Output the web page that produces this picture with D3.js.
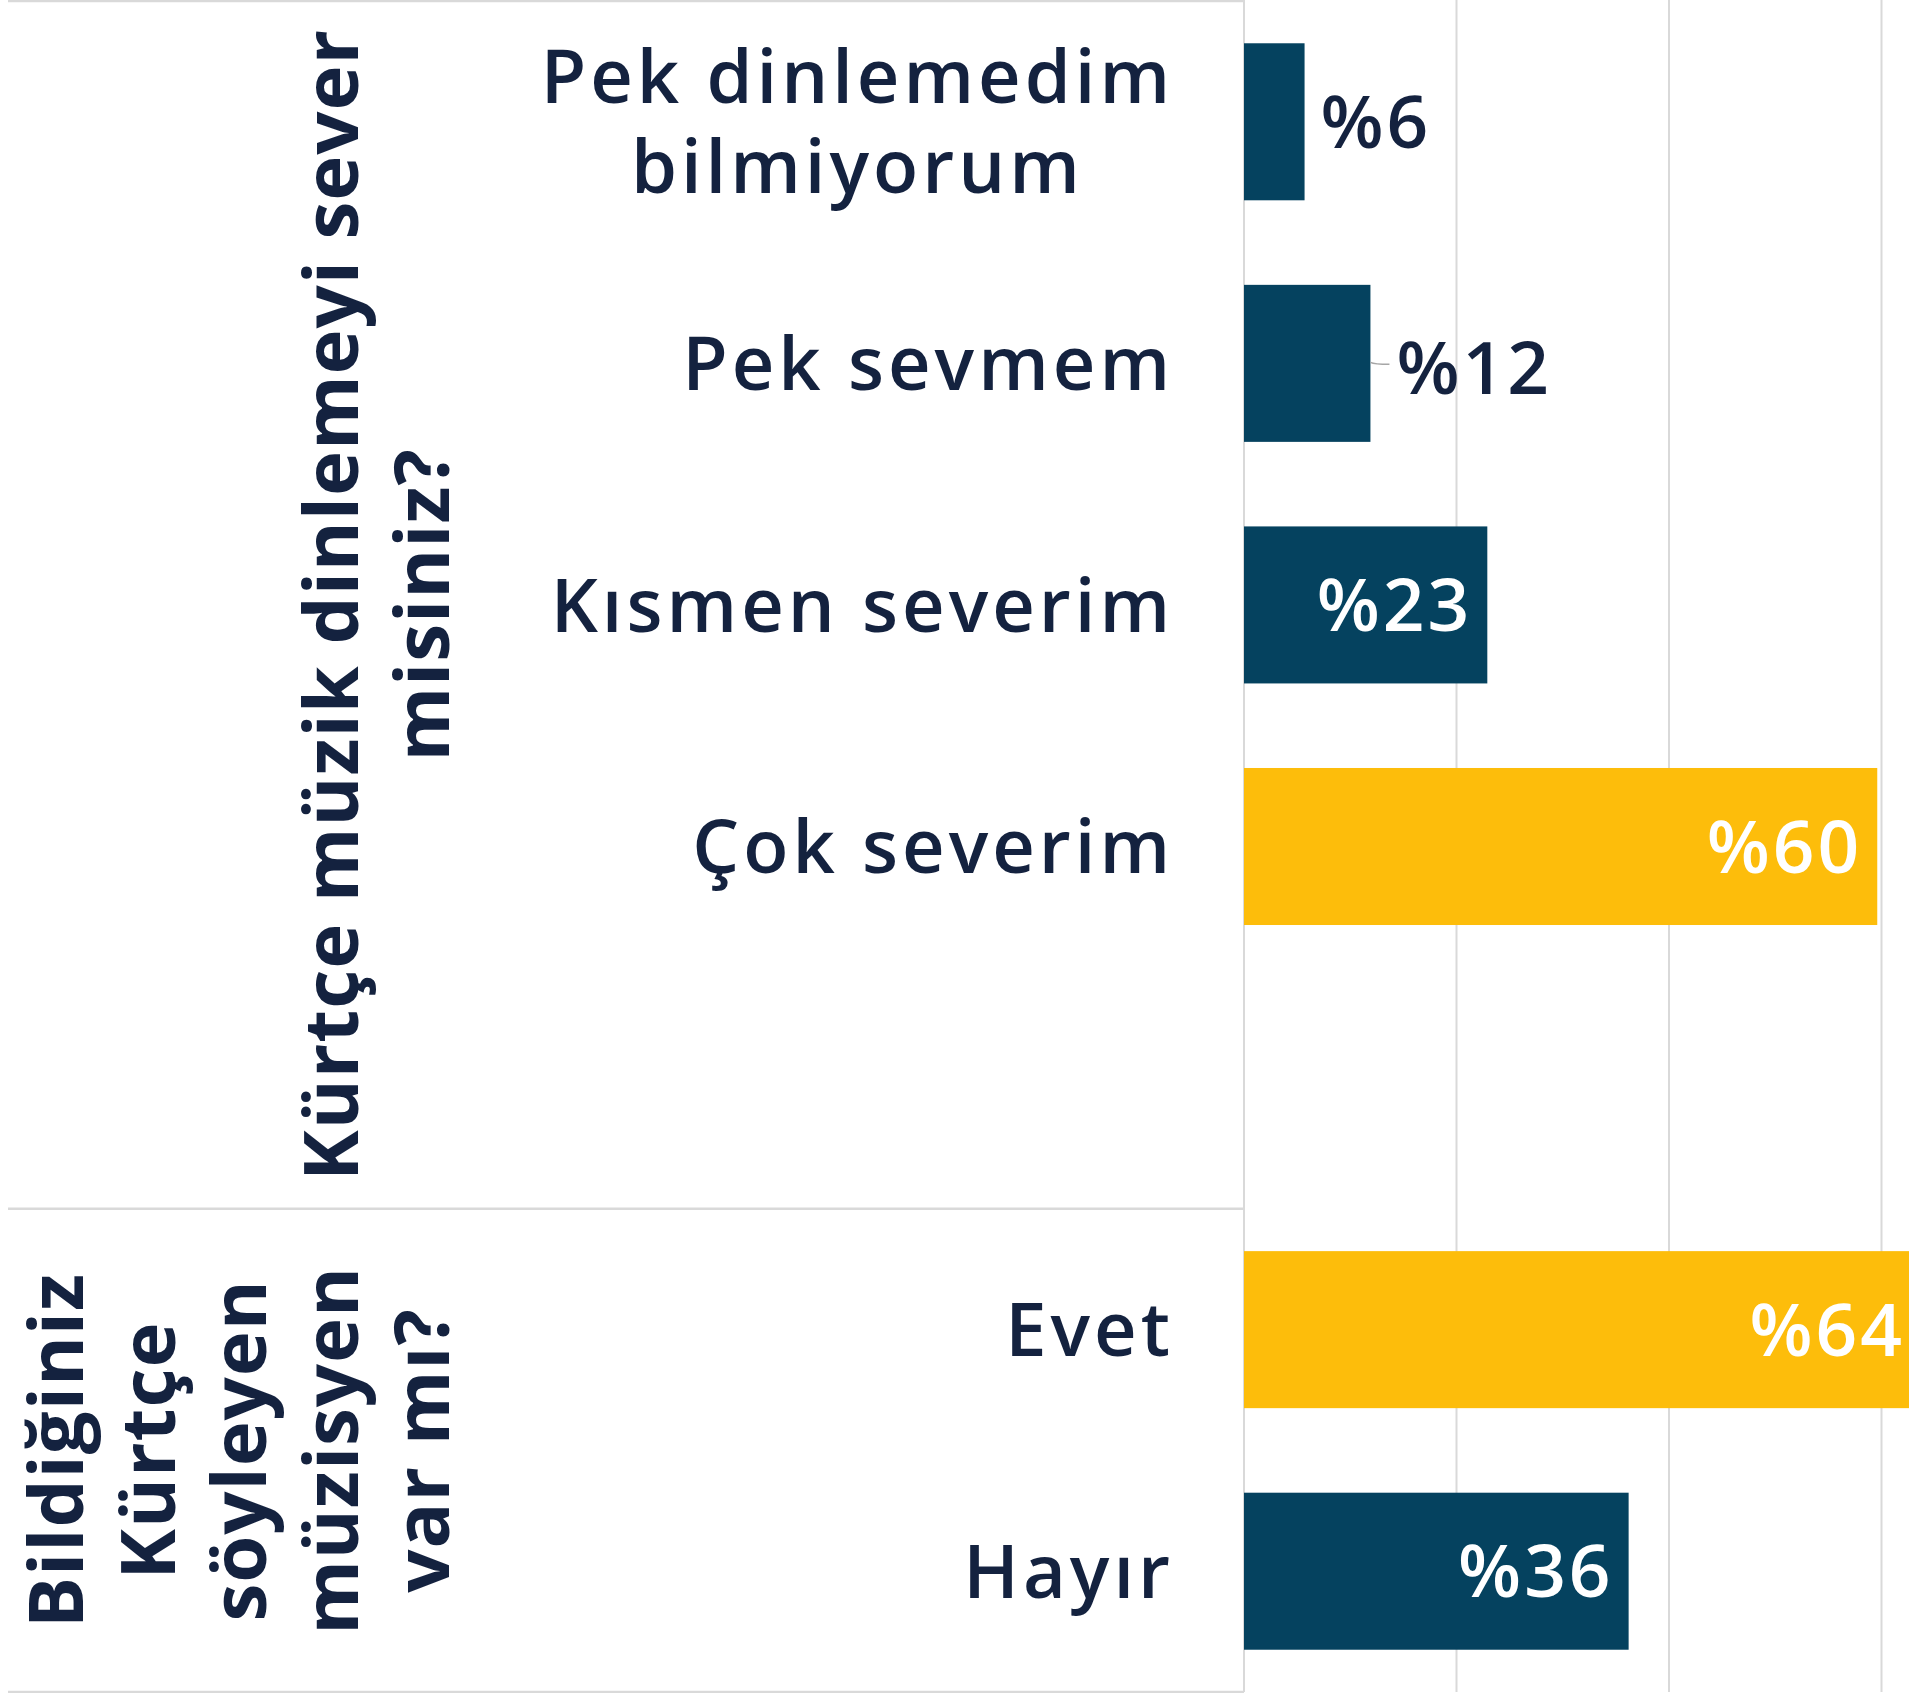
<!DOCTYPE html>
<html>
<head>
<meta charset="utf-8">
<script src="https://cdn.jsdelivr.net/npm/d3@7"></script>
<style>
  body { margin: 0; background: #fff; }
  svg { display: block; }
  text { font-family: "Open Sans", sans-serif; fill: #14223f; }
</style>
</head>
<body>
<svg width="1909" height="1693"></svg>
<script>
// **** Data ****

var groupLabels = [
    ["Kürtçe müzik dinlemeyi sever", "misiniz?"],
    ["Bildiğiniz", "Kürtçe", "söyleyen", "müzisyen", "var mı?"]
];

var categories = [
    ["Pek dinlemedim", "bilmiyorum"],
    ["Pek sevmem"],
    ["Kısmen severim"],
    ["Çok severim"],
    ["Evet"],
    ["Hayır"]
];

var categoryGroup = [0, 0, 0, 0, 1, 1];

var values = [5.7, 11.9, 22.9, 59.6, 64.0, 36.2];

var gridTicks = [0, 20, 40, 60, 80];

// **** Layout ****

var width = 1909, height = 1693;
var axisX = 1244;
var labelRight = 1170;
var groupBaseline = 449;
var groupLineHeight = 91.5;
var catLineHeight = 90;

var svg = d3.select('svg');

// band keys: one empty slot between the two groups
var keys = ['c0', 'c1', 'c2', 'c3', 'gap', 'c4', 'c5'];

var yScale = d3.scaleBand()
    .domain(keys)
    .range([1, 1692])
    .paddingInner(0.35)
    .paddingOuter(0.175);

var xScale = d3.scaleLinear()
    .domain([0, 80])
    .range([axisX, axisX + 850]);

function barY(i) { return yScale('c' + i); }
function barCenter(i) { return yScale('c' + i) + yScale.bandwidth() / 2; }

// which bar is the largest in its group -> yellow
function isTop(i) {
    var g = categoryGroup[i];
    var m = d3.max(values.filter(function(v, j) { return categoryGroup[j] === g; }));
    return values[i] === m;
}

// **** Gridlines ****
svg.append('g').attr('class', 'grid')
    .selectAll('line')
    .data(gridTicks)
    .enter()
    .append('line')
    .attr('x1', function(d) { return xScale(d); })
    .attr('x2', function(d) { return xScale(d); })
    .attr('y1', 0)
    .attr('y2', 1692)
    .attr('stroke', '#d9d9d9')
    .attr('stroke-width', 2);

// **** Category axis borders (multi-level) ****
var step = yScale.step();
var y0 = yScale.range()[0];
var sepYs = [y0, y0 + 5 * step, y0 + 7 * step];

svg.append('g').attr('class', 'borders')
    .selectAll('line')
    .data(sepYs)
    .enter()
    .append('line')
    .attr('x1', 8)
    .attr('x2', axisX)
    .attr('y1', function(d) { return d; })
    .attr('y2', function(d) { return d; })
    .attr('stroke', '#d9d9d9')
    .attr('stroke-width', 2.5);

// **** Bars ****
svg.append('g').attr('class', 'bars')
    .selectAll('rect')
    .data(values)
    .enter()
    .append('rect')
    .attr('x', xScale(0))
    .attr('y', function(d, i) { return barY(i); })
    .attr('width', function(d) { return xScale(d) - xScale(0); })
    .attr('height', yScale.bandwidth())
    .attr('fill', function(d, i) { return isTop(i) ? '#fdbd0b' : '#05425f'; });

// **** Value labels ****
var valueFont = 73;
var valueSpacing = 3;
var leaderLabels = [1];

values.forEach(function(v, i) {
    var end = xScale(v);
    var cy = barCenter(i);
    var txt = '%' + Math.round(v);
    if (v >= 20) {
        svg.append('text')
            .attr('x', Math.min(end - 18, width - 7) + valueSpacing)
            .attr('y', cy + valueFont * 0.36)
            .attr('text-anchor', 'end')
            .style('font-size', valueFont + 'px')
            .style('font-weight', 600)
            .style('letter-spacing', valueSpacing + 'px')
            .style('fill', '#ffffff')
            .text(txt);
    } else {
        var lead = leaderLabels.indexOf(i) >= 0;
        var lx = end + (lead ? 26 : 16);
        if (lead) {
            svg.append('path')
                .attr('d', 'M' + end + ',' + (cy - 1) + ' Q' + (end + 4) + ',' + (cy + 1) + ' ' + (end + 19) + ',' + (cy + 1))
                .attr('fill', 'none')
                .attr('stroke', '#a6a6a6')
                .attr('stroke-width', 1.5);
        }
        svg.append('text')
            .attr('x', lx)
            .attr('y', cy + valueFont * 0.36 + (lead ? 4 : 0))
            .style('font-size', valueFont + 'px')
            .style('font-weight', 600)
            .style('letter-spacing', valueSpacing + 'px')
            .text(txt);
    }
});

// **** Category labels ****
var catFont = 74;
var catSpacing = 4;
categories.forEach(function(lines, i) {
    var cy = barCenter(i);
    var first = cy + catFont * 0.36 - (lines.length - 1) * catLineHeight / 2;
    // multi-line labels are centred on each other, right edge at labelRight
    var tmp = svg.append('text')
        .style('font-size', catFont + 'px')
        .style('font-weight', 600)
        .style('letter-spacing', catSpacing + 'px');
    var widest = d3.max(lines, function(l) { tmp.text(l); return tmp.node().getComputedTextLength(); });
    tmp.remove();
    lines.forEach(function(l, k) {
        svg.append('text')
            .attr('x', labelRight + catSpacing - widest / 2)
            .attr('y', first + k * catLineHeight)
            .attr('text-anchor', 'middle')
            .style('font-size', catFont + 'px')
            .style('font-weight', 600)
            .style('letter-spacing', catSpacing + 'px')
            .text(l);
    });
});

// **** Group labels (rotated) ****
var groupFont = 76;
groupLabels.forEach(function(lines, g) {
    var top = sepYs[g === 0 ? 0 : 1];
    var bottom = sepYs[g === 0 ? 1 : 2];
    var cy = (top + bottom) / 2;
    var t = svg.append('text')
        .attr('transform', 'translate(0,' + cy + ') rotate(-90)')
        .attr('text-anchor', 'middle')
        .style('font-size', groupFont + 'px')
        .style('font-weight', 700)
        .style('letter-spacing', '1px');
    lines.forEach(function(l, k) {
        t.append('tspan')
            .attr('x', 0)
            .attr('y', groupBaseline - (lines.length - 1 - k) * groupLineHeight)
            .text(l);
    });
});
</script>
</body>
</html>
